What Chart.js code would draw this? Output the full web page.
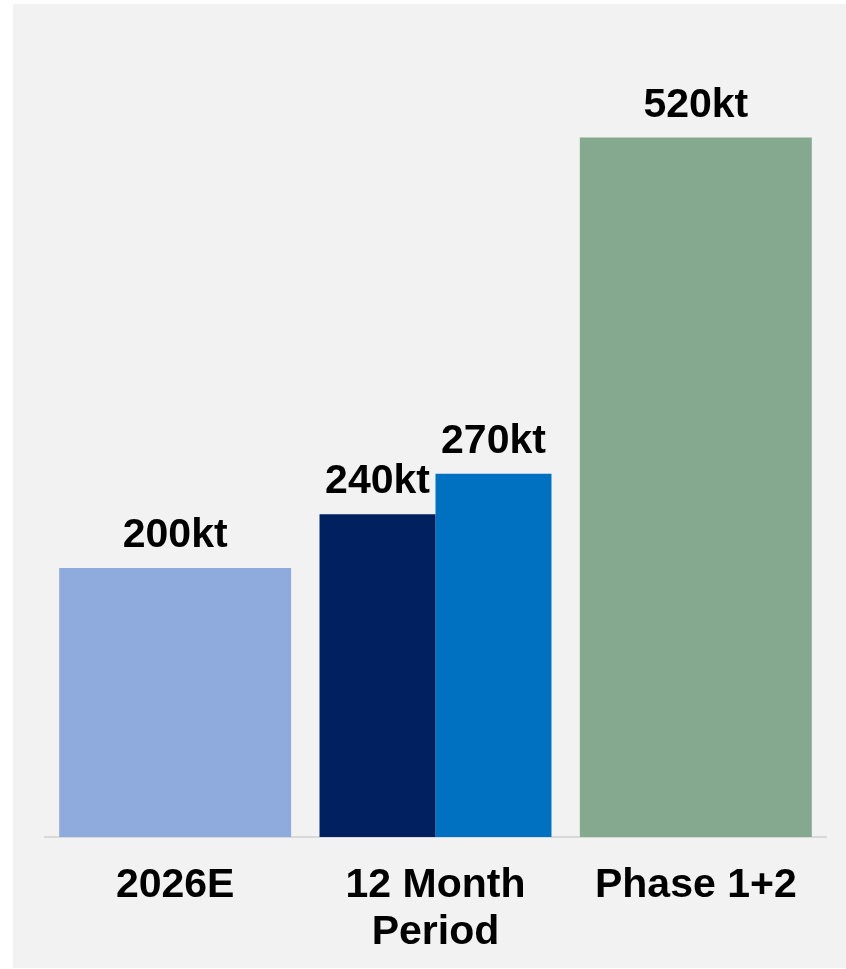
<!DOCTYPE html>
<html>
<head>
<meta charset="utf-8">
<script src="https://cdn.jsdelivr.net/npm/chart.js@4.4.1/dist/chart.umd.min.js"></script>
<style>
  html, body { margin: 0; padding: 0; background: #ffffff; }
  .panel {
    position: absolute;
    left: 13px;
    top: 4px;
    width: 833px;
    height: 964px;
    background: #f2f2f2;
  }
  canvas { display: block; }
</style>
</head>
<body>
<div class="panel">
  <canvas id="capacityChart" width="833" height="964"></canvas>
</div>
<script>
const categories = ['2026E', ['12 Month', 'Period'], 'Phase 1+2'];
const firstBars = [200, 240, 520];
const secondBars = [null, 270, null];
const firstColors = ['#8faadc', '#002060', '#85a98e'];
const secondColors = ['#0070c0', '#0070c0', '#0070c0'];
const unit = 'kt';

const FONT = "'Liberation Sans', Arial, Helvetica, sans-serif";

// writes the value above every bar
const valueLabels = {
    id: 'valueLabels',
    afterDatasetsDraw(chart) {
        const ctx = chart.ctx;
        ctx.save();
        ctx.fillStyle = '#000000';
        ctx.font = 'bold 41px ' + FONT;
        ctx.textAlign = 'center';
        ctx.textBaseline = 'alphabetic';
        chart.data.datasets.forEach((ds, i) => {
            chart.getDatasetMeta(i).data.forEach((bar, j) => {
                const v = ds.data[j];
                if (v === null || v === undefined) return;
                ctx.fillText(v + unit, bar.x, bar.y - 21);
            });
        });
        ctx.restore();
    }
};

const ctx = document.getElementById('capacityChart').getContext('2d');
new Chart(ctx, {
    type: 'bar',
    data: {
        labels: categories,
        datasets: [
            {
                data: firstBars,
                backgroundColor: firstColors,
                borderWidth: 0,
                skipNull: true,
                categoryPercentage: 0.891,
                barPercentage: 1
            },
            {
                data: secondBars,
                backgroundColor: secondColors,
                borderWidth: 0,
                skipNull: true,
                categoryPercentage: 0.891,
                barPercentage: 1
            }
        ]
    },
    options: {
        responsive: false,
        animation: false,
        layout: {
            padding: { top: 26, left: 32, right: 20, bottom: 12 }
        },
        scales: {
            x: {
                grid: { display: false },
                border: { display: true, color: '#d9d9d9', width: 2 },
                ticks: {
                    color: '#000000',
                    padding: 17,
                    maxRotation: 0,
                    autoSkip: false,
                    font: { family: FONT, size: 41, weight: 'bold', lineHeight: 1.15 }
                },
                afterFit(scale) {
                    scale.height = 119;
                }
            },
            y: {
                display: false,
                min: 0,
                max: 600
            }
        },
        plugins: {
            legend: { display: false },
            tooltip: { enabled: false }
        }
    },
    plugins: [valueLabels]
});
</script>
</body>
</html>
